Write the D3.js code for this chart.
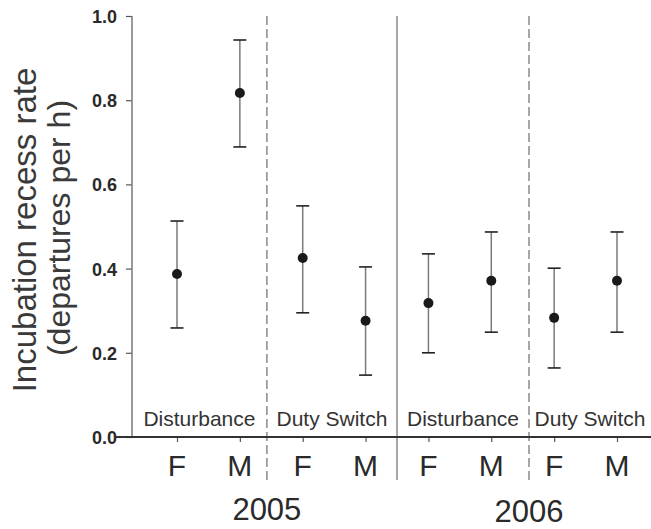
<!DOCTYPE html>
<html>
<head>
<meta charset="utf-8">
<script src="https://cdn.jsdelivr.net/npm/d3@7"></script>
<style>
  body { margin: 0; background: #fff; }
  text { font-family: "Liberation Sans", Arial, sans-serif; }
</style>
</head>
<body>
<script>
// values
var years = ["2005", "2006"];
var treatments = ["Disturbance", "Duty Switch", "Disturbance", "Duty Switch"];
var sexes = ["F", "M", "F", "M", "F", "M", "F", "M"];
var means = [0.387, 0.817, 0.425, 0.276, 0.318, 0.371, 0.283, 0.371];
var upper = [0.513, 0.943, 0.549, 0.404, 0.435, 0.487, 0.401, 0.487];
var lower = [0.259, 0.689, 0.295, 0.147, 0.200, 0.249, 0.164, 0.249];
var yTicks = [0.0, 0.2, 0.4, 0.6, 0.8, 1.0];
// group dividers, in index units of the x scale
var dividers = [1.43, 3.5, 5.6];
var dividerDashed = [true, false, true];

var width = 651,
    height = 529;

var svg = d3.select("body").append("svg")
    .attr("width", width)
    .attr("height", height);

var x = d3.scaleLinear().domain([0, sexes.length - 1]).range([177, 617]);
var y = d3.scaleLinear().domain([0, 1]).range([437, 16]);
var axisX = 132;

// vertical separators
svg.selectAll("line.div").data(dividers)
    .enter().append("line")
    .attr("class", "div")
    .attr("x1", function(d) { return x(d); })
    .attr("x2", function(d) { return x(d); })
    .attr("y1", y(1))
    .attr("y2", 480)
    .attr("stroke", "#8a8a8a")
    .attr("stroke-width", 1.5)
    .attr("stroke-dasharray", function(d, i) { return dividerDashed[i] ? "9,4" : null; });

// y axis
var yAxis = svg.append("g")
    .attr("transform", "translate(" + axisX + ",0)")
    .call(d3.axisLeft(y).tickValues(yTicks).tickFormat(d3.format(".1f")).tickSize(6).tickPadding(9));
yAxis.select(".domain").remove();
yAxis.selectAll(".tick line").attr("stroke", "#555").attr("stroke-width", 1.2);
yAxis.selectAll(".tick text")
    .attr("fill", "#2a2a2a")
    .style("font-size", "18px")
    .style("font-weight", "bold")
    .attr("dy", "0.36em");
svg.append("line")
    .attr("x1", axisX).attr("x2", axisX)
    .attr("y1", y(1)).attr("y2", y(0))
    .attr("stroke", "#777").attr("stroke-width", 1.5);

// x axis
var xAxis = svg.append("g")
    .attr("transform", "translate(0," + y(0) + ")")
    .call(d3.axisBottom(x).tickValues(d3.range(sexes.length)).tickSize(5).tickFormat(""));
xAxis.select(".domain").remove();
xAxis.selectAll(".tick line").attr("stroke", "#555").attr("stroke-width", 1.2);
svg.append("line")
    .attr("x1", 115).attr("x2", width)
    .attr("y1", y(0)).attr("y2", y(0))
    .attr("stroke", "#333").attr("stroke-width", 2);

// sex labels
svg.selectAll("text.sex").data(sexes)
    .enter().append("text")
    .attr("class", "sex")
    .attr("x", function(d, i) { return x(i); })
    .attr("y", 476)
    .attr("text-anchor", "middle")
    .attr("fill", "#2a2a2a")
    .style("font-size", "30px")
    .text(function(d) { return d; });

// treatment labels centred between separators
var bounds = [axisX].concat(dividers.map(function(d) { return x(d); })).concat([width]);
svg.selectAll("text.treat").data(treatments)
    .enter().append("text")
    .attr("class", "treat")
    .attr("x", function(d, i) { return (bounds[i] + bounds[i + 1]) / 2; })
    .attr("y", 426)
    .attr("text-anchor", "middle")
    .attr("fill", "#333")
    .style("font-size", "21px")
    .text(function(d) { return d; });

// year labels
svg.selectAll("text.year").data(years)
    .enter().append("text")
    .attr("class", "year")
    .attr("x", function(d, i) { return x(dividers[i * 2]); })
    .attr("y", function(d, i) { return 520 + i * 2; })
    .attr("text-anchor", "middle")
    .attr("fill", "#2a2a2a")
    .style("font-size", "31px")
    .text(function(d) { return d; });

// y title
var title = svg.append("g");
title.append("text")
    .attr("transform", "translate(36," + 230 + ") rotate(-90)")
    .attr("text-anchor", "middle")
    .attr("fill", "#3a3a3a")
    .style("font-size", "33px")
    .text("Incubation recess rate");
title.append("text")
    .attr("transform", "translate(70," + 228 + ") rotate(-90)")
    .attr("text-anchor", "middle")
    .attr("fill", "#3a3a3a")
    .style("font-size", "32px")
    .text("(departures per h)");

// error bars
var bars = svg.selectAll("g.bar").data(means)
    .enter().append("g")
    .attr("class", "bar");
bars.append("line")
    .attr("x1", function(d, i) { return x(i); })
    .attr("x2", function(d, i) { return x(i); })
    .attr("y1", function(d, i) { return y(upper[i]); })
    .attr("y2", function(d, i) { return y(lower[i]); })
    .attr("stroke", "#7a7a7a").attr("stroke-width", 1.5);
[upper, lower].forEach(function(arr) {
    bars.append("line")
        .attr("x1", function(d, i) { return x(i) - 6.5; })
        .attr("x2", function(d, i) { return x(i) + 6.5; })
        .attr("y1", function(d, i) { return y(arr[i]); })
        .attr("y2", function(d, i) { return y(arr[i]); })
        .attr("stroke", "#222").attr("stroke-width", 1.6);
});
bars.append("circle")
    .attr("cx", function(d, i) { return x(i); })
    .attr("cy", function(d) { return y(d); })
    .attr("r", 5)
    .attr("fill", "#1a1a1a");
</script>
</body>
</html>
